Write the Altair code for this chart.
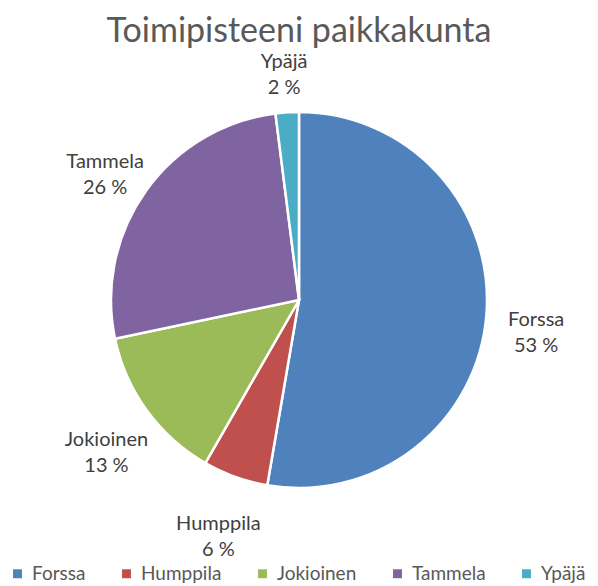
import altair as alt
import pandas as pd

places = ["Forssa", "Humppila", "Jokioinen", "Tammela", "Ypäjä"]
shares = [52.7, 5.6, 13.4, 26.3, 2.0]
pct_labels = ["53 %", "6 %", "13 %", "26 %", "2 %"]
colors = ["#4F81BD", "#C0504D", "#9BBB59", "#8064A2", "#4BACC6"]

df = pd.DataFrame({
    "place": places,
    "share": shares,
    "order": list(range(len(places))),
    "label": [f"{p}\n{l}" for p, l in zip(places, pct_labels)],
})

base = alt.Chart(df).encode(
    theta=alt.Theta("share:Q", stack=True),
    order=alt.Order("order:Q"),
)

pie = base.mark_arc(outerRadius=188, stroke="white", strokeWidth=2.5).encode(
    color=alt.Color(
        "place:N",
        scale=alt.Scale(domain=places, range=colors),
        sort=places,
        legend=alt.Legend(
            title=None,
            orient="bottom",
            direction="horizontal",
            columns=5,
            symbolType="square",
            symbolSize=80,
            symbolStrokeWidth=0,
            labelFontSize=19,
            labelFont="Lato",
            labelColor="#595959",
            columnPadding=31,
            offset=14,
            labelOffset=5,
        ),
    )
)

labels = base.mark_text(
    radius=238, fontSize=20, font="Lato", color="#404040",
    lineBreak="\n", lineHeight=26, align="center", baseline="middle",
).encode(text="label:N")

chart = (pie + labels).properties(
    width=582,
    height=500,
    autosize=alt.AutoSizeParams(type="none"),
    padding={"left": 0, "top": 42, "right": 0, "bottom": 36},
    title=alt.TitleParams(
        "Toimipisteeni paikkakunta",
        fontSize=34, font="Lato", fontWeight="normal", color="#595959",
        anchor="middle", offset=1,
    ),
).configure_view(stroke=None)

chart.save("out.html", embed_options={"renderer": "svg", "actions": False})
